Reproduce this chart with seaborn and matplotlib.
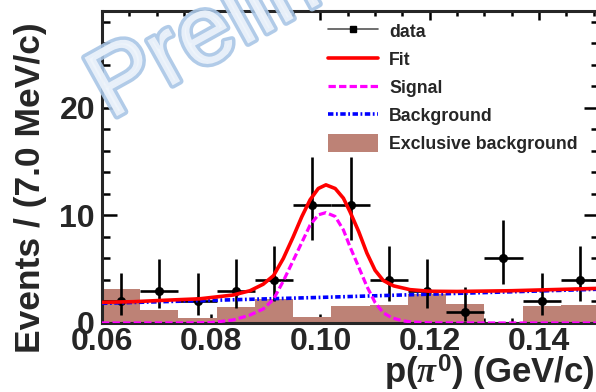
import matplotlib
matplotlib.use("Agg")
import matplotlib.pyplot as plt
import matplotlib.patheffects as pe
from matplotlib.lines import Line2D
from matplotlib.patches import Patch
from matplotlib.ticker import MultipleLocator, FormatStrFormatter
import seaborn as sns
import pandas as pd

# ---------------- data ----------------
bin_centers = [0.0635, 0.0705, 0.0775, 0.0845, 0.0915, 0.0985, 0.1055,
               0.1125, 0.1195, 0.1265, 0.1335, 0.1405, 0.1475]
bin_half_width = 0.0035
data_counts = [2, 3, 2, 3, 4, 11, 11, 4, 3, 1, 6, 2, 4]
err_low = [1.29, 1.63, 1.29, 1.63, 1.91, 3.29, 3.29, 1.91, 1.63, 0.83, 2.38, 1.29, 1.91]
err_high = [2.64, 2.92, 2.64, 2.92, 3.16, 4.40, 4.40, 3.16, 2.92, 2.30, 3.58, 2.64, 3.16]

excl_bkg = [3.2, 1.25, 0.47, 1.45, 2.25, 0.55, 1.6, 1.7, 2.7, 1.75, 0.0, 1.55, 1.7]

fit_x = [0.060, 0.0657, 0.0718, 0.0779, 0.0840, 0.0871, 0.0895, 0.0914, 0.0932,
         0.0950, 0.0966, 0.0981, 0.0996, 0.1010, 0.1027, 0.1042, 0.1054, 0.1070,
         0.1085, 0.1100, 0.1115, 0.1134, 0.1164, 0.1200, 0.1250, 0.1350, 0.1510]
fit_y = [1.92, 1.98, 2.12, 2.25, 2.6, 3.0, 3.6, 4.4, 6.0,
         8.0, 9.9, 11.45, 12.5, 12.84, 12.5, 11.6, 10.35, 8.5,
         6.5, 4.9, 3.95, 3.45, 3.1, 2.95, 2.93, 3.0, 3.22]

sig_x = [0.060, 0.075, 0.080, 0.084, 0.087, 0.0895, 0.0914, 0.0932, 0.0950,
         0.0966, 0.0981, 0.0996, 0.1010, 0.1027, 0.1042, 0.1054, 0.1070, 0.1085,
         0.1100, 0.1115, 0.1130, 0.1150, 0.1170, 0.1200, 0.1300, 0.1510]
sig_y = [0.0, 0.01, 0.04, 0.28, 0.72, 1.3, 2.2, 3.9, 5.8,
         7.5, 9.1, 10.05, 10.26, 9.9, 8.65, 7.1, 5.2, 3.4,
         1.9, 0.95, 0.5, 0.2, 0.08, 0.02, 0.0, 0.0]

bkg_x = [0.060, 0.100, 0.151]
bkg_y = [1.83, 2.38, 3.14]

x_ticks = [0.06, 0.08, 0.10, 0.12, 0.14]
y_ticks = [0, 10, 20]
labels = ["data", "Fit", "Signal", "Background", "Exclusive background"]

# ---------------- style ----------------
sns.set_style("ticks")
plt.rcParams["font.family"] = ["Liberation Sans", "DejaVu Sans"]
plt.rcParams["mathtext.fontset"] = "custom"
plt.rcParams["mathtext.rm"] = "Liberation Sans:bold"
plt.rcParams["mathtext.it"] = "Liberation Serif:italic:bold"
plt.rcParams["mathtext.bf"] = "Liberation Sans:bold"

brown = "#BD8276"

fig = plt.figure(figsize=(5.96, 3.92), dpi=100)
ax = fig.add_axes([102 / 596, 69 / 392, 497 / 596, 312 / 392])

edges = [c - bin_half_width for c in bin_centers] + [bin_centers[-1] + bin_half_width]
sns.histplot(x=bin_centers, weights=excl_bkg, bins=edges, element="step",
             fill=True, color=brown, alpha=1, linewidth=0, ax=ax, zorder=1)

ax.errorbar(bin_centers, data_counts, yerr=[err_low, err_high], xerr=bin_half_width,
            fmt="o", color="black", ms=5.5, elinewidth=1.9, capsize=0, zorder=3)

sns.lineplot(x=bkg_x, y=bkg_y, color="#0000FF", lw=2.6, linestyle=(0, (1.5, 0.7, 0.5, 0.7)),
             ax=ax, sort=False, estimator=None, zorder=4)
sns.lineplot(x=sig_x, y=sig_y, color="#FF00FF", lw=2.3, linestyle=(0, (2.3, 1.0)),
             ax=ax, sort=False, estimator=None, zorder=5)
sns.lineplot(x=fit_x, y=fit_y, color="#FF0000", lw=2.6,
             ax=ax, sort=False, estimator=None, zorder=6)

ax.set_xlim(0.060, 0.151)
ax.set_ylim(0, 29)
ax.set_xticks(x_ticks)
ax.set_yticks(y_ticks)
ax.xaxis.set_minor_locator(MultipleLocator(0.005))
ax.yaxis.set_minor_locator(MultipleLocator(2))
ax.xaxis.set_major_formatter(FormatStrFormatter("%.2f"))
ax.yaxis.set_major_formatter(FormatStrFormatter("%d"))

ax.tick_params(axis="both", which="both", direction="in", top=True, right=True,
               width=1.8, color="black", labelsize=23)
ax.tick_params(axis="x", which="major", length=6.5, pad=3)
ax.tick_params(axis="x", which="minor", length=3.3)
ax.tick_params(axis="y", which="major", length=10.8, pad=5)
ax.tick_params(axis="y", which="minor", length=5.8)
for lbl in ax.get_xticklabels() + ax.get_yticklabels():
    lbl.set_fontweight("bold")
for sp in ax.spines.values():
    sp.set_linewidth(2.2)
    sp.set_visible(True)

ax.set_ylabel("Events / (7.0 MeV/c)", fontsize=25.5, fontweight="bold")
ax.yaxis.set_label_coords(-(102 - 31) / 497, (323 - 188) / 312)
ax.yaxis.label.set_va("center")
ax.set_xlabel(r"p($\pi^{\mathbf{0}}$) (GeV/c)", fontsize=25, fontweight="bold")
ax.xaxis.set_label_coords((595 - 102) / 497, -(373 - 323) / 312)
ax.xaxis.label.set_ha("right")
ax.xaxis.label.set_va("center")

handles = [
    Line2D([], [], color="#555555", lw=1.2, marker="s", mfc="black", mec="black", ms=5),
    Line2D([], [], color="#FF0000", lw=2.6),
    Line2D([], [], color="#FF00FF", lw=2.3, linestyle=(0, (2.3, 1.0))),
    Line2D([], [], color="#0000FF", lw=2.6, linestyle=(0, (1.5, 0.7, 0.5, 0.7))),
    Patch(facecolor=brown, edgecolor="none"),
]
leg = ax.legend(handles, labels, loc="upper left", bbox_to_anchor=(328 / 596, 1 - 22 / 392),
                bbox_transform=fig.transFigure, frameon=False,
                prop={"size": 12.8, "weight": "bold"},
                borderpad=0, borderaxespad=0, handlelength=2.8, handleheight=1.15,
                handletextpad=0.65, labelspacing=0.52)

wm = fig.text(110 / 596, 1 - 120 / 392, "Preliminary", rotation=29, rotation_mode="anchor",
              ha="left", va="baseline", fontsize=70, color="#EEF4FB", alpha=0.9,
              family="Liberation Sans", zorder=10)
wm.set_path_effects([pe.withStroke(linewidth=5, foreground="#A9C6E6")])

fig.savefig("out.png", dpi=100)
